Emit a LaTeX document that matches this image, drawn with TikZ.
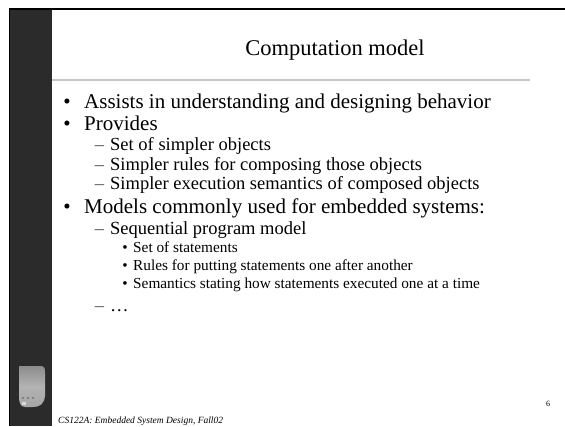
\documentclass[tikz,border=0pt]{standalone}
\usepackage{fontspec}
\setmainfont{Liberation Serif}
\begin{document}
\begin{tikzpicture}[x=1pt,y=-1pt,
  lvlone/.style={anchor=base west,inner sep=0pt,font=\fontsize{21}{24}\selectfont},
  lvltwo/.style={anchor=base west,inner sep=0pt,font=\fontsize{18.5}{21}\selectfont},
  lvlthree/.style={anchor=base west,inner sep=0pt,font=\fontsize{15.3}{17}\selectfont},
  mark1/.style={anchor=base,inner sep=0pt,font=\fontsize{21}{24}\selectfont},
  mark2/.style={anchor=base,inner sep=0pt,font=\fontsize{18.5}{21}\selectfont,text=black!70},
  mark3/.style={anchor=base,inner sep=0pt,font=\fontsize{15.3}{17}\selectfont}]
\useasboundingbox (0,0) rectangle (565,426);
\clip (0,0) rectangle (565,426);
% slide frame and dark sidebar
\fill[white] (0,0) rectangle (565,426);
\fill[black!83] (10,9) rectangle (52,426);
\draw[black,line width=2pt] (9,9) -- (565,9);
\draw[black,line width=1.5pt] (9.5,8) -- (9.5,426);
\draw[black!22,line width=2pt] (52,80) -- (530,80);
% logo in the sidebar
\shade[top color=black!45,bottom color=black!35,middle color=black!30]
  (19,366) -- (42,366) .. controls (45,366) and (45,369) .. (45,372)
  -- (45,396) .. controls (44,404) and (40,407) .. (33,407)
  -- (25,407) .. controls (20,407) and (19,402) .. (19,396) -- cycle;
\fill[black!55] (23,398) circle (1.2) (28,398) circle (1.2) (33,398) circle (1.2);
\fill[white!85!black] (22,402) rectangle (26,405);
% title
\node[anchor=base,inner sep=0pt,font=\fontsize{22.5}{26}\selectfont] (title) at (335,55) {Computation model};
% bullets
\node[mark1] (b1) at (67,108) {•};
\node[lvlone] (t1) at (84,108) {Assists in understanding and designing behavior};
\node[mark1] (b2) at (67,130) {•};
\node[lvlone] (t2) at (84,130) {Provides};
\node[mark2] (d1) at (99.5,150) {–};
\node[lvltwo] (s1) at (110,150) {Set of simpler objects};
\node[mark2] (d2) at (99.5,170) {–};
\node[lvltwo] (s2) at (110,170) {Simpler rules for composing those objects};
\node[mark2] (d3) at (99.5,189) {–};
\node[lvltwo] (s3) at (110,189) {Simpler execution semantics of composed objects};
\node[mark1] (b3) at (67,213) {•};
\node[lvlone] (t3) at (84,213) {Models commonly used for embedded systems:};
\node[mark2] (d4) at (99.5,234) {–};
\node[lvltwo] (s4) at (110,234) {Sequential program model};
\node[mark3] (c1) at (125,252) {•};
\node[lvlthree] (u1) at (133,252) {Set of statements};
\node[mark3] (c2) at (125,270) {•};
\node[lvlthree] (u2) at (133,270) {Rules for putting statements one after another};
\node[mark3] (c3) at (125,288) {•};
\node[lvlthree] (u3) at (133,288) {Semantics stating how statements executed one at a time};
\node[mark2] (d5) at (99.5,311) {–};
\node[lvltwo] (s5) at (110,311) {…};
% footer and page number
\node[anchor=base west,inner sep=0pt,font=\fontsize{9.5}{11}\selectfont\itshape] (foot) at (58,423) {CS122A: Embedded System Design, Fall02};
\node[anchor=base,inner sep=0pt,font=\fontsize{8}{9}\selectfont] (page) at (548,406) {6};
\end{tikzpicture}
\end{document}
